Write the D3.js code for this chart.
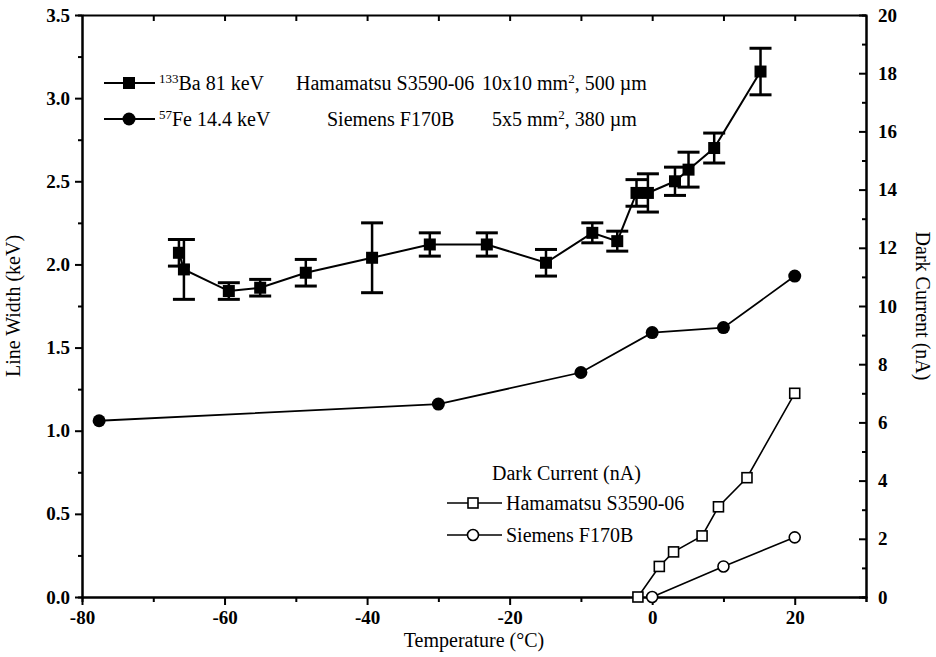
<!DOCTYPE html>
<html>
<head>
<meta charset="utf-8">
<script src="https://cdn.jsdelivr.net/npm/d3@7"></script>
<style>
  body { margin: 0; background: #fff; }
  text { font-family: "Liberation Serif", "Times New Roman", serif; fill: #000; }
  .axis path, .axis line { stroke: #000; stroke-width: 2; }
  .axis text { font-size: 19px; font-weight: bold; }
</style>
</head>
<body>
<div id="chart"></div>
<script>
// Line width, 133Ba 81 keV (Hamamatsu)
var baTemp = [-66.4, -65.7, -59.4, -55.0, -48.6, -39.3, -31.2, -23.2, -14.9, -8.4, -4.9, -2.2, -0.6, 3.2, 5.1, 8.7, 15.2];
var baWidth = [2.07, 1.97, 1.84, 1.86, 1.95, 2.04, 2.12, 2.12, 2.01, 2.19, 2.14, 2.43, 2.43, 2.50, 2.57, 2.70, 3.16];
var baErr = [0.08, 0.18, 0.05, 0.05, 0.08, 0.21, 0.07, 0.07, 0.08, 0.06, 0.06, 0.08, 0.115, 0.085, 0.105, 0.09, 0.14];

// Line width, 57Fe 14.4 keV (Siemens)
var feTemp = [-77.6, -30, -10, 0, 10, 20];
var feWidth = [1.06, 1.16, 1.35, 1.59, 1.62, 1.93];

// Dark current (nA)
var hamTemp = [-2, 1, 3, 7, 9.3, 13.3, 20];
var hamCurrent = [0, 1.05, 1.55, 2.1, 3.1, 4.1, 7.0];
var sieTemp = [0, 10, 20];
var sieCurrent = [0, 1.05, 2.05];

var xTicks = [-80, -60, -40, -20, 0, 20];
var yLeftTicks = [0, 0.5, 1.0, 1.5, 2.0, 2.5, 3.0, 3.5];
var yRightTicks = [0, 2, 4, 6, 8, 10, 12, 14, 16, 18, 20];

var W = 936, H = 657;
var margin = { top: 15, right: 70, bottom: 60, left: 82 };
var width = W - margin.left - margin.right;
var height = H - margin.top - margin.bottom;

var svg = d3.select("#chart").append("svg")
  .attr("width", W).attr("height", H)
  .append("g")
  .attr("transform", "translate(" + margin.left + "," + margin.top + ")");

var x = d3.scaleLinear().domain([-80, 30]).range([0, width]);
var yL = d3.scaleLinear().domain([0, 3.5]).range([height, 0]);
var yR = d3.scaleLinear().domain([0, 20]).range([height, 0]);

// plain hyphen for negative labels, like the original
function hyph(d) { return String(d); }

// minor ticks first, then major axes
svg.append("g").attr("class", "axis")
  .attr("transform", "translate(0," + height + ")")
  .call(d3.axisBottom(x).tickValues(d3.range(-70, 31, 20)).tickSize(5).tickFormat(""));
svg.append("g").attr("class", "axis")
  .attr("transform", "translate(0," + height + ")")
  .call(d3.axisBottom(x).tickValues(xTicks).tickSize(8).tickSizeOuter(0).tickPadding(6)
    .tickFormat(hyph));

svg.append("g").attr("class", "axis")
  .call(d3.axisTop(x).tickValues(d3.range(-70, 30, 10)).tickSize(-6).tickSizeOuter(0).tickFormat(""));

svg.append("g").attr("class", "axis")
  .call(d3.axisLeft(yL).tickValues(d3.range(0.25, 3.5, 0.5)).tickSize(4).tickFormat(""));
svg.append("g").attr("class", "axis")
  .call(d3.axisLeft(yL).tickValues(yLeftTicks).tickSize(7).tickSizeOuter(0).tickPadding(5)
    .tickFormat(function(d) { return d.toFixed(1); }));

svg.append("g").attr("class", "axis")
  .attr("transform", "translate(" + width + ",0)")
  .call(d3.axisRight(yR).tickValues(d3.range(1, 20, 2)).tickSize(-4).tickFormat(""));
svg.append("g").attr("class", "axis")
  .attr("transform", "translate(" + width + ",0)")
  .call(d3.axisRight(yR).tickValues(yRightTicks).tickSize(-7).tickSizeOuter(0).tickPadding(12)
    .tickFormat(hyph));

// axis titles
svg.append("text")
  .attr("x", width / 2).attr("y", height + 50)
  .attr("text-anchor", "middle").style("font-size", "20px")
  .text("Temperature (°C)");
svg.append("text")
  .attr("transform", "translate(" + (-62) + "," + (height / 2) + ") rotate(-90)")
  .attr("text-anchor", "middle").style("font-size", "20px")
  .text("Line Width (keV)");
svg.append("text")
  .attr("transform", "translate(" + (width + 50) + "," + (height / 2) + ") rotate(90)")
  .attr("text-anchor", "middle").style("font-size", "20px")
  .text("Dark Current (nA)");

// helpers
function pts(xs, ys) {
  return xs.map(function(d, i) { return [d, ys[i]]; });
}
var lineL = d3.line().x(function(d) { return x(d[0]); }).y(function(d) { return yL(d[1]); });
var lineR = d3.line().x(function(d) { return x(d[0]); }).y(function(d) { return yR(d[1]); });

// Ba series with error bars
var ba = baTemp.map(function(d, i) { return { t: d, v: baWidth[i], e: baErr[i] }; });

svg.append("path").datum(pts(baTemp, baWidth))
  .attr("d", lineL).attr("fill", "none").attr("stroke", "#000").attr("stroke-width", 2);

var eb = svg.selectAll(".err").data(ba).enter().append("g").attr("class", "err");
eb.append("line")
  .attr("x1", function(d) { return x(d.t); }).attr("x2", function(d) { return x(d.t); })
  .attr("y1", function(d) { return yL(d.v + d.e); }).attr("y2", function(d) { return yL(d.v - d.e); })
  .attr("stroke", "#000").attr("stroke-width", 2.5);
eb.append("line")
  .attr("x1", function(d) { return x(d.t) - 11; }).attr("x2", function(d) { return x(d.t) + 11; })
  .attr("y1", function(d) { return yL(d.v + d.e); }).attr("y2", function(d) { return yL(d.v + d.e); })
  .attr("stroke", "#000").attr("stroke-width", 3);
eb.append("line")
  .attr("x1", function(d) { return x(d.t) - 11; }).attr("x2", function(d) { return x(d.t) + 11; })
  .attr("y1", function(d) { return yL(d.v - d.e); }).attr("y2", function(d) { return yL(d.v - d.e); })
  .attr("stroke", "#000").attr("stroke-width", 3);

svg.selectAll(".ba").data(ba).enter().append("rect")
  .attr("class", "ba")
  .attr("x", function(d) { return x(d.t) - 6; })
  .attr("y", function(d) { return yL(d.v) - 6; })
  .attr("width", 12).attr("height", 12)
  .attr("fill", "#000");

// Fe series
svg.append("path").datum(pts(feTemp, feWidth))
  .attr("d", lineL).attr("fill", "none").attr("stroke", "#000").attr("stroke-width", 1.8);
svg.selectAll(".fe").data(pts(feTemp, feWidth)).enter().append("circle")
  .attr("class", "fe")
  .attr("cx", function(d) { return x(d[0]); })
  .attr("cy", function(d) { return yL(d[1]); })
  .attr("r", 6.5).attr("fill", "#000");

// dark current, Hamamatsu
svg.append("path").datum(pts(hamTemp, hamCurrent))
  .attr("d", lineR).attr("fill", "none").attr("stroke", "#000").attr("stroke-width", 1.6);
svg.selectAll(".ham").data(pts(hamTemp, hamCurrent)).enter().append("rect")
  .attr("class", "ham")
  .attr("x", function(d) { return x(d[0]) - 5; })
  .attr("y", function(d) { return yR(d[1]) - 5; })
  .attr("width", 10).attr("height", 10)
  .attr("fill", "#fff").attr("stroke", "#000").attr("stroke-width", 1.6);

// dark current, Siemens
svg.append("path").datum(pts(sieTemp, sieCurrent))
  .attr("d", lineR).attr("fill", "none").attr("stroke", "#000").attr("stroke-width", 1.6);
svg.selectAll(".sie").data(pts(sieTemp, sieCurrent)).enter().append("circle")
  .attr("class", "sie")
  .attr("cx", function(d) { return x(d[0]); })
  .attr("cy", function(d) { return yR(d[1]); })
  .attr("r", 5.5)
  .attr("fill", "#fff").attr("stroke", "#000").attr("stroke-width", 1.6);

// top legend (page coords)
var leg = d3.select("svg").append("g");
function legText(xp, yp, parts) {
  var t = leg.append("text").attr("x", xp).attr("y", yp).style("font-size", "20px");
  parts.forEach(function(p) {
    var s = t.append("tspan").text(p.s);
    if (p.sup) s.attr("dy", -7).style("font-size", "13px");
    if (p.down) s.attr("dy", 7);
  });
}
leg.append("line").attr("x1", 104).attr("x2", 155).attr("y1", 83).attr("y2", 83)
  .attr("stroke", "#000").attr("stroke-width", 2);
leg.append("rect").attr("x", 123).attr("y", 77).attr("width", 12).attr("height", 12).attr("fill", "#000");
legText(159, 90, [{ s: "133", sup: true }, { s: "Ba 81 keV", down: true }]);
legText(296, 90, [{ s: "Hamamatsu S3590-06" }]);
legText(482, 90, [{ s: "10x10 mm" }, { s: "2", sup: true }, { s: ", 500 µm", down: true }]);

leg.append("line").attr("x1", 104).attr("x2", 155).attr("y1", 119).attr("y2", 119)
  .attr("stroke", "#000").attr("stroke-width", 2);
leg.append("circle").attr("cx", 129).attr("cy", 119).attr("r", 6.5).attr("fill", "#000");
legText(159, 126, [{ s: "57", sup: true }, { s: "Fe 14.4 keV", down: true }]);
legText(327, 126, [{ s: "Siemens F170B" }]);
legText(492, 126, [{ s: "5x5 mm" }, { s: "2", sup: true }, { s: ",  380 µm", down: true }]);

// bottom legend
legText(492, 480, [{ s: "Dark Current (nA)" }]);
leg.append("line").attr("x1", 447).attr("x2", 502).attr("y1", 503).attr("y2", 503)
  .attr("stroke", "#000").attr("stroke-width", 1.6);
leg.append("rect").attr("x", 468).attr("y", 498).attr("width", 10).attr("height", 10)
  .attr("fill", "#fff").attr("stroke", "#000").attr("stroke-width", 1.6);
legText(506, 510, [{ s: "Hamamatsu S3590-06" }]);
leg.append("line").attr("x1", 447).attr("x2", 502).attr("y1", 535).attr("y2", 535)
  .attr("stroke", "#000").attr("stroke-width", 1.6);
leg.append("circle").attr("cx", 473).attr("cy", 535).attr("r", 5.5)
  .attr("fill", "#fff").attr("stroke", "#000").attr("stroke-width", 1.6);
legText(506, 542, [{ s: "Siemens F170B" }]);
</script>
</body>
</html>
